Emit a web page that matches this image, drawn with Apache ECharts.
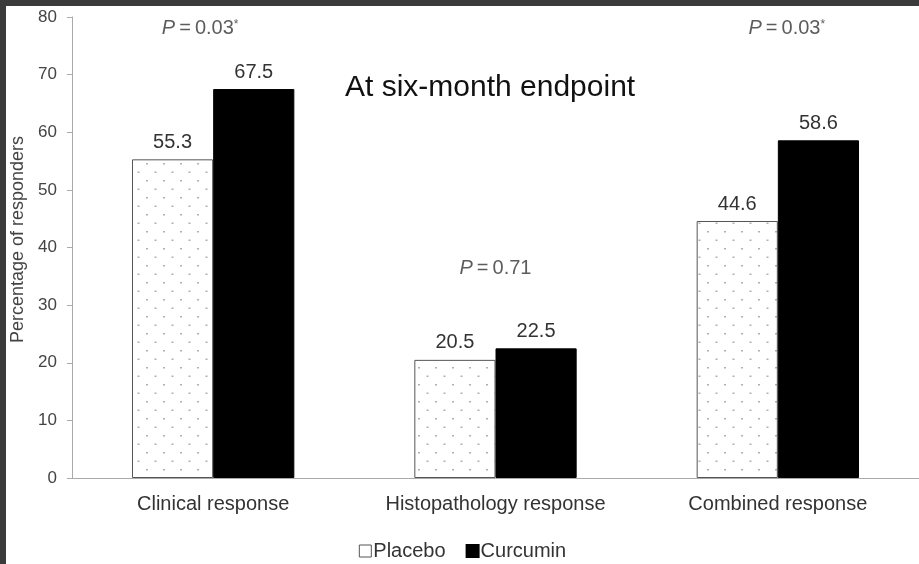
<!DOCTYPE html>
<html>
<head>
<meta charset="utf-8">
<script src="https://cdn.jsdelivr.net/npm/echarts@6/dist/echarts.min.js"></script>
<style>
html,body{margin:0;padding:0;background:#3b3b3b;width:919px;height:564px;overflow:hidden;}
#c{position:absolute;left:6px;top:6px;width:913px;height:558px;background:#fff;}
</style>
</head>
<body>
<div id="c"></div>
<script>
const categories = ['Clinical response', 'Histopathology response', 'Combined response'];
const placebo = [55.3, 20.5, 44.6];
const curcumin = [67.5, 22.5, 58.6];
const pValues = ['0.03*', '0.71', '0.03*'];
const pPositions = [78, 36.4, 78];
const yTicks = [0, 10, 20, 30, 40, 50, 60, 70, 80];

const FONT = '"Liberation Sans", Arial, sans-serif';

// dotted pattern for placebo bars
const pc = document.createElement('canvas');
pc.width = 17; pc.height = 17;
const px = pc.getContext('2d');
px.fillStyle = '#ffffff';
px.fillRect(0, 0, 17, 17);
px.fillStyle = '#b0b0b0';
px.fillRect(4, 4, 2, 1.5);
px.fillRect(12.5, 12.5, 2, 1.5);

const chart = echarts.init(document.getElementById('c'), null, {renderer: 'canvas'});

const pOffsets = [[-13, 0], [0, 0], [9, 0]];
const pData = categories.map((c, i) => ({value: [c, pPositions[i]], p: pValues[i], label: {offset: pOffsets[i]}}));

chart.setOption({
  animation: false,
  textStyle: {fontFamily: FONT},
  title: {
    text: 'At six-month endpoint',
    left: 334, top: 62,
    textStyle: {fontSize: 30, fontWeight: 'normal', color: '#111', fontFamily: FONT}
  },
  legend: {
    top: 530, left: 'center',
    itemWidth: 12, itemHeight: 12, itemGap: 20,
    textStyle: {fontSize: 20, color: '#333', padding: [0, 0, 0, -3]},
    data: [
      {name: 'Placebo', icon: 'rect', itemStyle: {color: '#fff', borderColor: '#555', borderWidth: 1}},
      {name: 'Curcumin', icon: 'rect', itemStyle: {color: '#000'}}
    ]
  },
  grid: {left: 66, right: 0, top: 11, bottom: 86, containLabel: false, outerBoundsMode: 'none'},
  xAxis: {
    type: 'category',
    data: categories,
    axisLine: {lineStyle: {color: '#aaa', width: 1}},
    axisTick: {show: false},
    axisLabel: {fontSize: 20, color: '#333', margin: 16, interval: 0}
  },
  yAxis: {
    type: 'value', min: 0, max: 80, interval: 10,
    name: 'Percentage of responders',
    nameLocation: 'middle', nameGap: 45, nameRotate: 90,
    nameTextStyle: {fontSize: 18, color: '#444', padding: [0, 0, 0, 16]},
    axisLine: {show: true, lineStyle: {color: '#aaa', width: 1}},
    axisTick: {show: true, length: 5, lineStyle: {color: '#aaa'}},
    splitLine: {show: false},
    axisLabel: {fontSize: 17, color: '#444', margin: 15,
      formatter: v => yTicks.includes(v) ? String(v) : ''}
  },
  series: [
    {
      name: 'Placebo', type: 'bar', data: placebo,
      barGap: '0%', barCategoryGap: '42.5%',
      itemStyle: {color: {image: pc, repeat: 'repeat'}, borderColor: '#555', borderWidth: 1},
      label: {show: true, position: 'top', distance: 7, fontSize: 20, color: '#333', formatter: p => p.value.toFixed(1)}
    },
    {
      name: 'Curcumin', type: 'bar', data: curcumin,
      itemStyle: {color: '#000', borderColor: '#000', borderWidth: 1},
      label: {show: true, position: 'top', distance: 7, fontSize: 20, color: '#333', formatter: p => p.value.toFixed(1)}
    },
    {
      name: 'P', type: 'scatter', data: pData, symbolSize: 0, silent: true,
      label: {
        show: true, position: 'inside', fontSize: 20, color: '#333',
        formatter: p => '{i|P}\u2009=\u2009' + p.data.p.replace('*', '{s|*}'),
        rich: {
          i: {fontStyle: 'italic', fontSize: 20, color: '#333'},
          s: {fontSize: 12, color: '#333', verticalAlign: 'top', padding: [0, 0, 8, 0]}
        }
      }
    }
  ]
});
</script>
</body>
</html>
